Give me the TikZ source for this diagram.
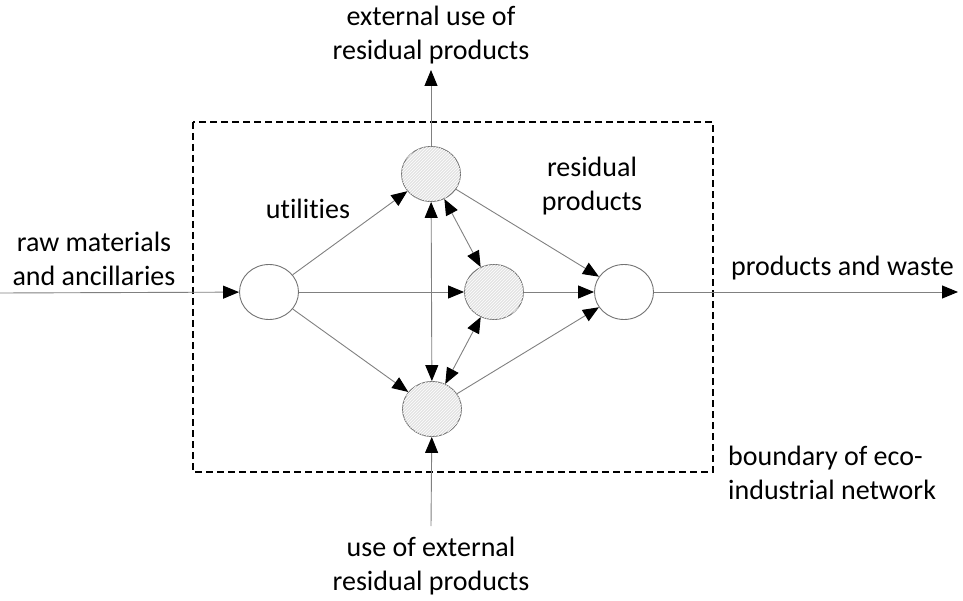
\documentclass[tikz,border=0pt]{standalone}
\usepackage{fontspec}
\setmainfont{Carlito}[Ligatures=NoCommon]
\usetikzlibrary{arrows.meta,shapes.geometric,patterns}
\begin{document}
\begin{tikzpicture}[x=1pt,y=-1pt,
  unit/.style={ellipse,draw=black!55,line width=0.9pt,minimum width=59pt,minimum height=55pt,inner sep=0pt,fill=white},
  hatched/.style={unit,fill=black!11,postaction={pattern=north east lines,pattern color=white}},
  tip/.style={Triangle[length=16pt,width=13pt,color=black]},
  conn/.style={draw=black!50,line width=0.9pt,-{Triangle[length=16pt,width=13pt,color=black]}},
  dconn/.style={conn,{Triangle[length=16pt,width=13pt,color=black]}-{Triangle[length=16pt,width=13pt,color=black]}},
  lbl/.style={font=\fontsize{28}{34}\selectfont,align=center,inner sep=0pt},
  boundary/.style={draw=black,line width=1.3pt,dash pattern=on 7pt off 4pt}]
\useasboundingbox (0,0) rectangle (963,601);

% boundary of the network
\draw[boundary] (193,122) rectangle (713,472);

% process units
\node[unit] (src) at (269,292) {};
\node[hatched] (top) at (431,174) {};
\node[hatched] (mid) at (494,292) {};
\node[hatched] (bot) at (432,409) {};
\node[unit] (snk) at (624,292) {};

% free ends of the external flows
\coordinate (in) at (0,293);
\coordinate (out) at (958,292);
\coordinate (up) at (431,70);
\coordinate (down) at (431,526);

% flows
\draw[conn] (in) -- (src);
\draw[conn] (src) -- (top);
\draw[conn] (src) -- (mid);
\draw[conn] (src) -- (bot);
\draw[conn] (top) -- (snk);
\draw[conn] (mid) -- (snk);
\draw[conn] (bot) -- (snk);
\draw[conn] (snk) -- (out);
\draw[conn] (top) -- (up);
\draw[conn] (down) -- (bot);
\draw[dconn] (top) -- (bot);
\draw[dconn] (top) -- (mid);
\draw[dconn] (mid) -- (bot);

% labels
\node[lbl] (t1) at (431,35) {external use of\\residual products};
\node[lbl] (t2) at (94,259) {raw materials\\and ancillaries};
\node[lbl,anchor=west] (t3) at (731,268) {products and waste};
\node[lbl,anchor=west,align=left] (t4) at (728,473) {boundary of eco-\\industrial network};
\node[lbl] (t5) at (431,566) {use of external\\residual products};
\node[lbl] (t6) at (308,209) {utilities};
\node[lbl] (t7) at (592,186) {residual\\products};
\end{tikzpicture}
\end{document}
